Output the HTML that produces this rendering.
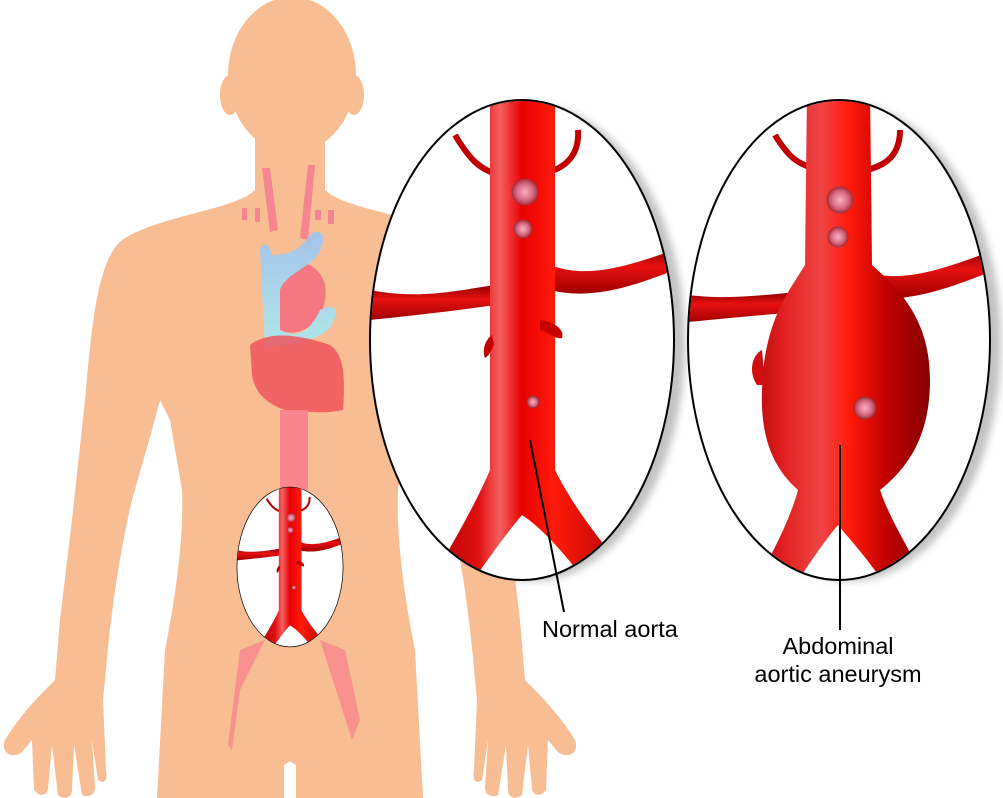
<!DOCTYPE html>
<html><head><meta charset="utf-8"><style>
html,body{margin:0;padding:0;background:#fff;}
svg{display:block;}
text{font-family:"Liberation Sans",Arial,sans-serif;font-size:23.5px;fill:#000;}
</style></head><body>
<svg width="1003" height="798" viewBox="0 0 1003 798" xmlns="http://www.w3.org/2000/svg">
<defs>
<linearGradient id="tr" x1="0" x2="1" y1="0" y2="0">
<stop offset="0" stop-color="#a80000"/><stop offset="0.25" stop-color="#e01010"/><stop offset="0.35" stop-color="#f56060"/><stop offset="0.45" stop-color="#e80000"/><stop offset="0.6" stop-color="#ff1a0a"/><stop offset="1" stop-color="#a00000"/>
</linearGradient>
<linearGradient id="tr2" x1="0" x2="1" y1="0" y2="0">
<stop offset="0" stop-color="#b00000"/><stop offset="0.2" stop-color="#e02020"/><stop offset="0.4" stop-color="#f04545"/><stop offset="0.55" stop-color="#ff1a0a"/><stop offset="0.75" stop-color="#c00000"/><stop offset="1" stop-color="#800000"/>
</linearGradient>
<linearGradient id="br" x1="0" x2="0" y1="0" y2="1">
<stop offset="0" stop-color="#8a0000"/><stop offset="0.4" stop-color="#e81010"/><stop offset="1" stop-color="#a00000"/>
</linearGradient>
<linearGradient id="lung" x1="0" x2="0" y1="0" y2="1">
<stop offset="0" stop-color="#9cc4f2"/><stop offset="1" stop-color="#a8ecf2"/>
</linearGradient>
<radialGradient id="os"><stop offset="0" stop-color="#f8b0c0"/><stop offset="0.6" stop-color="#d87088"/><stop offset="1" stop-color="#b03040"/></radialGradient>
<clipPath id="c1"><ellipse cx="522" cy="340" rx="151" ry="239"/></clipPath>
<clipPath id="c2"><ellipse cx="839" cy="340" rx="150" ry="239"/></clipPath>
<filter id="bl"><feGaussianBlur stdDeviation="4"/></filter>
<g id="e1">
<ellipse cx="522" cy="340" rx="152" ry="240" fill="#fff"/>
<g clip-path="url(#c1)">
<path d="M370,290 C420,300 460,290 495,285 L495,305 C460,310 420,315 370,320 Z" fill="url(#br)"/>
<path d="M550,265 C590,280 630,265 680,248 L680,268 C630,288 590,300 550,290 Z" fill="url(#br)"/>
<path d="M500,175 C480,170 470,160 455,135" stroke="#c00000" stroke-width="6" fill="none"/>
<path d="M540,175 C560,170 580,160 578,130" stroke="#c00000" stroke-width="6" fill="none"/>
<path d="M490,90 L555,90 L555,470 C575,510 600,540 640,590 L600,600 C570,560 545,530 522,515 C505,535 480,570 460,600 L425,590 C455,540 475,505 490,470 Z" fill="url(#tr)"/>
<path d="M540,320 C555,322 565,330 562,338 C555,340 545,330 540,330 Z" fill="#c80000"/>
<path d="M492,335 C485,340 482,350 485,358 C490,355 492,348 494,345 Z" fill="#c00000"/>
<circle cx="525" cy="192" r="13" fill="url(#os)" stroke="#a03040"/>
<circle cx="523" cy="229" r="9" fill="url(#os)" stroke="#a03040"/>
<circle cx="533" cy="402" r="6" fill="url(#os)" stroke="#a03040"/>
</g>
<ellipse cx="522" cy="340" rx="152" ry="240" fill="none" stroke="#000" stroke-width="2"/>
</g>
</defs>
<ellipse cx="533" cy="343" rx="152" ry="238" fill="#999" filter="url(#bl)" opacity="0.6"/>
<ellipse cx="850" cy="343" rx="151" ry="238" fill="#999" filter="url(#bl)" opacity="0.6"/>
<g fill="#f8bd92">
<ellipse cx="292" cy="75" rx="64" ry="78"/>
<ellipse cx="230" cy="95" rx="10" ry="20"/>
<ellipse cx="354" cy="95" rx="10" ry="20"/>
<g id="half">
<path d="M292,120 L255,120 L255,190 C235,210 160,215 122,240 C98,260 92,320 85,400 L72,520 L60,620 L55,680 C40,695 20,715 5,740 C0,752 12,760 22,752 L32,740 L34,790 C40,798 48,795 48,788 L52,745 L58,795 C64,800 72,798 72,790 L74,745 L82,795 C88,798 95,795 95,788 L92,740 L98,780 C103,784 108,782 106,770 L103,700 L105,680 C110,620 118,560 132,500 L152,430 L160,400 L170,420 L182,490 C184,540 175,600 165,650 L157,798 L284,798 L284,765 L292,760 Z"/>
</g>
<use href="#half" transform="translate(580,0) scale(-1,1)"/>
</g>
<g opacity="0.9">
<path d="M262,168 L270,168 L278,230 L270,232 Z" fill="#f58090"/>
<path d="M308,165 L315,165 L308,240 L300,238 Z" fill="#f58090"/>
<rect x="242" y="208" width="5" height="12" fill="#f58090"/>
<rect x="255" y="208" width="5" height="14" fill="#f58090"/>
<rect x="315" y="210" width="6" height="10" fill="#f58090"/>
<rect x="328" y="210" width="6" height="14" fill="#f58090"/>
<path d="M290,265 C300,258 320,265 325,285 C330,320 300,340 280,330 C275,300 275,280 290,265 Z" fill="#f47080"/>
<path d="M260,250 C262,240 270,245 272,255 C290,255 300,250 310,235 C318,228 330,232 318,255 C305,270 285,275 280,290 L280,330 C300,340 310,330 320,310 C330,305 340,305 334,320 C330,335 310,340 290,345 L265,348 Z" fill="url(#lung)"/>
<path d="M250,345 C270,330 300,335 330,345 C345,355 345,380 343,410 C320,415 300,410 285,410 C270,405 255,395 252,375 Z" fill="#ee4858" opacity="0.85"/>
<rect x="280" y="410" width="28" height="80" fill="#f88090"/>
<path d="M240,650 L265,640 L240,690 L232,750 L228,745 Z" fill="#f88090" opacity="0.8"/>
<path d="M320,640 L345,650 L360,720 L352,740 Z" fill="#f88090" opacity="0.8"/>
</g>
<use href="#e1" transform="translate(290,567) scale(0.349,0.333) translate(-522,-340)"/>
<use href="#e1"/>
<ellipse cx="839" cy="340" rx="151" ry="240" fill="#fff"/>
<g clip-path="url(#c2)">
<path d="M688,295 C730,300 760,295 800,292 L800,312 C760,315 730,318 688,322 Z" fill="url(#br)"/>
<path d="M860,270 C900,285 940,270 995,250 L995,270 C940,292 900,305 860,295 Z" fill="url(#br)"/>
<path d="M820,170 C800,165 790,160 775,135" stroke="#c00000" stroke-width="6" fill="none"/>
<path d="M858,172 C880,168 900,160 900,130" stroke="#c00000" stroke-width="6" fill="none"/>
<path d="M807,90 L870,90 L872,265 C900,290 930,320 930,380 C930,440 905,470 880,490 C890,520 910,550 935,600 L895,600 C870,560 850,540 838,525 C825,540 805,570 785,600 L745,600 C770,560 790,520 798,490 C775,470 760,440 762,390 C764,320 790,290 805,265 Z" fill="url(#tr2)"/>
<path d="M762,350 C752,355 748,372 757,385 L765,385 Z" fill="#d01010"/>
<circle cx="840" cy="200" r="13" fill="url(#os)" stroke="#a03040"/>
<circle cx="838" cy="237" r="10" fill="url(#os)" stroke="#a03040"/>
<circle cx="865" cy="408" r="11" fill="url(#os)" stroke="#a03040"/>
</g>
<ellipse cx="839" cy="340" rx="151" ry="240" fill="none" stroke="#000" stroke-width="2"/>
<line x1="530" y1="440" x2="564" y2="612" stroke="#000" stroke-width="2"/>
<line x1="840" y1="445" x2="840" y2="630" stroke="#000" stroke-width="2"/>
<text x="542" y="637">Normal aorta</text>
<text x="838" y="654" text-anchor="middle">Abdominal</text>
<text x="838" y="682" text-anchor="middle">aortic aneurysm</text>
</svg>
</body></html>
